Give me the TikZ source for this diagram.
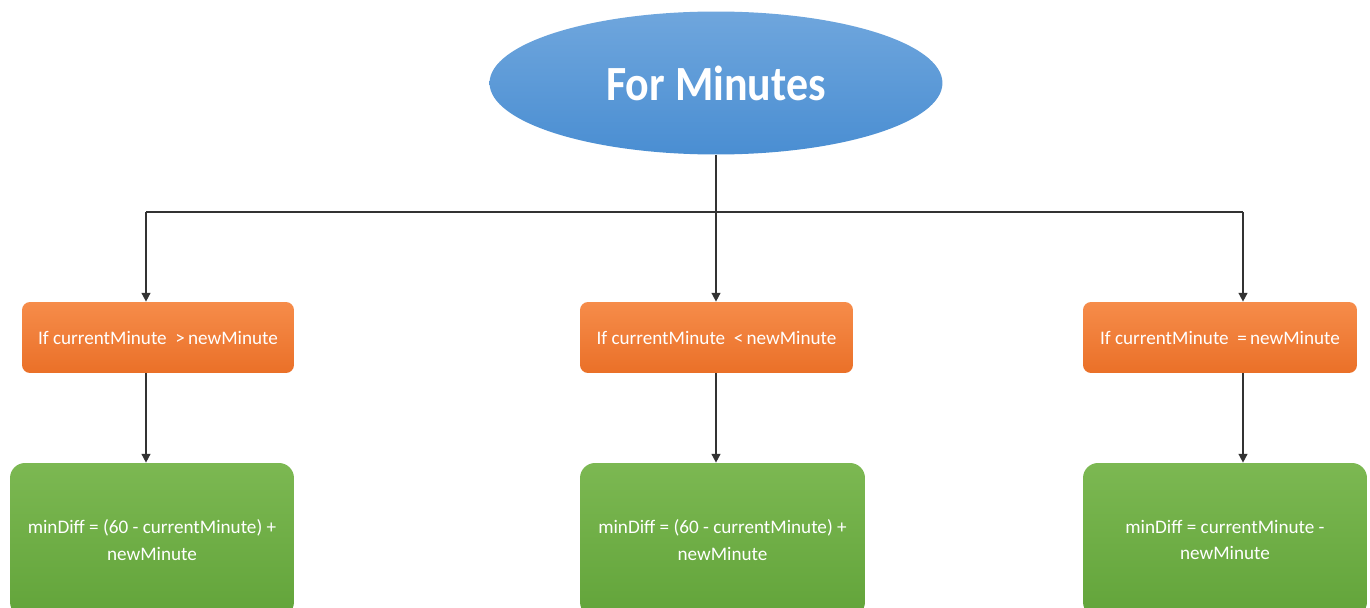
\documentclass[tikz,border=0pt]{standalone}
\usepackage{fontspec}
\setmainfont{Carlito}
\usetikzlibrary{shapes.geometric,arrows.meta}
\definecolor{bluetop}{HTML}{6FA6DD}
\definecolor{bluebot}{HTML}{4A8ED2}
\definecolor{orgtop}{HTML}{F68C4A}
\definecolor{orgbot}{HTML}{EA7028}
\definecolor{grntop}{HTML}{7CB852}
\definecolor{grnbot}{HTML}{62A43A}
\definecolor{linec}{HTML}{333333}
\tikzset{
  startnode/.style={ellipse, inner sep=0pt, minimum width=9.06cm, minimum height=2.86cm,
    top color=bluetop, bottom color=bluebot, draw=none, text=white,
    font=\fontsize{25pt}{28pt}\selectfont\bfseries},
  condbox/.style={rectangle, rounded corners=0.16cm, minimum height=1.42cm, inner sep=0pt,
    top color=orgtop, bottom color=orgbot, draw=none, text=white,
    font=\fontsize{10.9pt}{13pt}\selectfont},
  resbox/.style={rectangle, rounded corners=0.3cm, minimum height=3.08cm, inner sep=0pt,
    top color=grntop, bottom color=grnbot, draw=none, text=white, align=center,
    font=\fontsize{10.9pt}{15.3pt}\selectfont},
  conn/.style={draw=linec, line width=0.9pt},
  arr/.style={conn, -{Triangle[length=5pt,width=5pt]}}
}
\begin{document}
\begin{tikzpicture}[x=0.02cm, y=-0.02cm]
\useasboundingbox (0,0) rectangle (1370,608);
\clip (0,0) rectangle (1370,608);
\fill[white] (0,0) rectangle (1370,608);

\node[startnode] (start) at (716,83) {\scalebox{1}[1.12]{For Minutes}};

\node[condbox, minimum width=5.44cm] (c1) at (158,337.5) {If currentMinute\ \ >\,newMinute};
\node[condbox, minimum width=5.46cm] (c2) at (716.5,337.5) {If currentMinute\ \ <\,newMinute};
\node[condbox, minimum width=5.48cm] (c3) at (1220,337.5) {If currentMinute\ \ =\,newMinute};

\node[resbox, minimum width=5.68cm] (r1) at (152,540) {minDiff = (60 - currentMinute)\ +\\newMinute};
\node[resbox, minimum width=5.70cm] (r2) at (722.5,540) {minDiff = (60 - currentMinute)\ +\\newMinute};
\node[resbox, minimum width=5.68cm] (r3) at (1225,540) {minDiff = currentMinute\ -\\newMinute};

\coordinate (hl) at (146,212);
\coordinate (hm) at (716,212);
\coordinate (hr) at (1243,212);

\draw[conn] (start.south) -- (hm);
\draw[conn] (hl) -- (hr);
\draw[arr] (hl) -- (c1.north -| hl);
\draw[arr] (hm) -- (c2.north -| hm);
\draw[arr] (hr) -- (c3.north -| hr);
\draw[arr] (c1.south -| hl) -- (r1.north -| hl);
\draw[arr] (c2.south -| hm) -- (r2.north -| hm);
\draw[arr] (c3.south -| hr) -- (r3.north -| hr);
\end{tikzpicture}
\end{document}
